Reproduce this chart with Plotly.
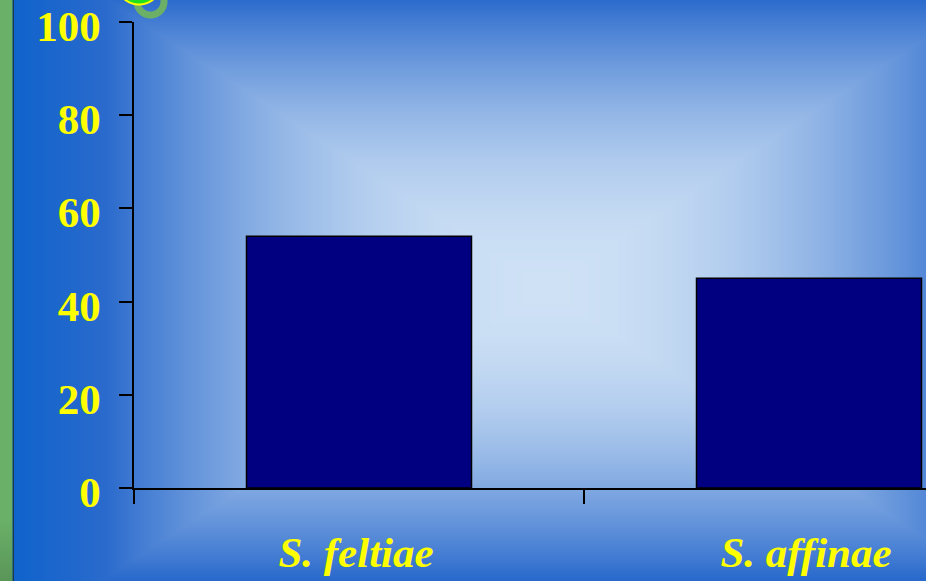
import base64
import struct
import zlib

import numpy as np
import plotly.graph_objects as go

# Chart data
species = ["S. feltiae", "S. affinae"]
values = [54, 45]
y_ticks = [0, 20, 40, 60, 80, 100]

W, H = 926, 581
M_LEFT, M_TOP, M_BOTTOM = 134, 22, 93


def png_data_uri(rgb):
    """Encode an (h, w, 3) uint8 array as a PNG data URI."""
    h, w, _ = rgb.shape
    raw = b"".join(b"\x00" + rgb[r].tobytes() for r in range(h))

    def chunk(tag, data):
        body = tag + data
        return struct.pack(">I", len(data)) + body + struct.pack(">I", zlib.crc32(body) & 0xFFFFFFFF)

    png = (b"\x89PNG\r\n\x1a\n"
           + chunk(b"IHDR", struct.pack(">IIBBBBB", w, h, 8, 2, 0, 0, 0))
           + chunk(b"IDAT", zlib.compress(raw, 9))
           + chunk(b"IEND", b""))
    return "data:image/png;base64," + base64.b64encode(png).decode()


def backdrop():
    yy, xx = np.mgrid[0:H, 0:W].astype(float)
    # rectangular gradient, light in the middle, blue toward the edges
    cx, cy, ax, ay = 545.0, 288.0, 440.0, 290.0
    t = np.maximum(np.abs(xx - cx) / ax, np.abs(yy - cy) / ay)
    c0 = np.array([206, 225, 245], float)
    c1 = np.array([42, 106, 204], float)
    c2 = np.array([10, 98, 204], float)
    s = np.clip(t, 0, 1) ** 2
    u = np.clip((t - 1) / 0.25, 0, 1)
    img = c0 + (c1 - c0) * s[..., None] + (c2 - c1) * u[..., None]

    def blend(mask, color):
        nonlocal img
        m = np.clip(mask, 0, 1)[..., None]
        img = img * (1 - m) + np.array(color, float) * m

    # green ring and yellow-rimmed green dot at the top
    d_ring = np.hypot(xx - 150, yy - 1)
    blend(np.minimum(17.5 - d_ring, d_ring - 9.5), (108, 176, 104))
    d_dot = np.hypot(xx - 138.5, yy + 18.5)
    blend(23.5 + 0.5 - d_dot, (255, 255, 0))
    blend(21.5 + 0.5 - d_dot, (30, 224, 30))

    # green strip on the left edge
    strip = np.clip(12.5 - xx, 0, 1)
    shade = np.clip((yy - 520) / 60, 0, 1)[..., None]
    green = np.array([106, 176, 104], float) * (1 - 0.15 * shade)
    img = img * (1 - strip[..., None]) + green * strip[..., None]
    edge = np.clip(1 - np.abs(xx - 12.8) / 1.0, 0, 1)
    blend(edge, (30, 50, 30))
    return png_data_uri(np.clip(img + 0.5, 0, 255).astype(np.uint8))


fig = go.Figure(
    go.Bar(
        x=species,
        y=values,
        width=0.5,
        marker=dict(color="#000080", line=dict(color="#000000", width=1.5)),
    )
)

plot_w = W - M_LEFT
plot_h = H - M_TOP - M_BOTTOM

fig.add_layout_image(
    source=backdrop(),
    xref="paper", yref="paper",
    x=-M_LEFT / plot_w, y=1 + M_TOP / plot_h,
    sizex=W / plot_w, sizey=H / plot_h,
    xanchor="left", yanchor="top",
    sizing="stretch", layer="below",
)

tick_font = dict(family="Liberation Serif", size=43, color="#ffff00", weight="bold")

fig.update_layout(
    width=W, height=H,
    margin=dict(l=M_LEFT, r=0, t=M_TOP, b=M_BOTTOM, pad=0),
    paper_bgcolor="rgba(0,0,0,0)",
    plot_bgcolor="rgba(0,0,0,0)",
    showlegend=False,
    bargap=0.5,
    xaxis=dict(
        range=[-0.5, -0.5 + plot_w / 450],
        showline=True, linecolor="#000000", linewidth=1.5,
        ticks="outside", tickson="boundaries", ticklen=14,
        tickcolor="#000000", tickwidth=1.5,
        showgrid=False, zeroline=False,
        tickfont=dict(tick_font, style="italic"),
        ticklabelstandoff=26,
        ticklabelshift=-3,
        ticklabeloverflow="allow",
    ),
    yaxis=dict(
        range=[0, 100],
        tickvals=y_ticks,
        showline=True, linecolor="#000000", linewidth=1.5,
        ticks="outside", ticklen=13, tickcolor="#000000", tickwidth=1.5,
        showgrid=False, zeroline=False,
        tickfont=tick_font,
        ticklabelstandoff=10,
        ticklabelshift=4,
        ticklabeloverflow="allow",
    ),
)

fig.write_html("out.html")
